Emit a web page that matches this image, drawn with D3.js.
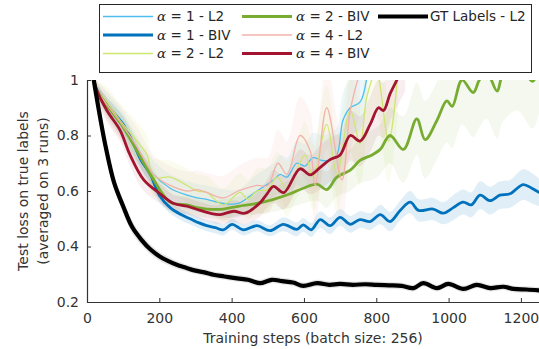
<!DOCTYPE html>
<html>
<head>
<meta charset="utf-8">
<script src="https://cdn.jsdelivr.net/npm/d3@7"></script>
<style>
  body { margin: 0; background: #fff; }
  svg { display: block; }
  text { font-family: "DejaVu Sans", sans-serif; }
</style>
</head>
<body>
<svg id="chart" width="539" height="349"></svg>
<script>
// values (training step -> test loss), spread = half width of the shaded band
var xTicks = [0, 200, 400, 600, 800, 1000, 1200];
var yTicks = [0.2, 0.4, 0.6, 0.8, 1];

var l2a1Steps  = [15, 25, 50, 91, 138, 184, 230, 277, 304, 331, 377, 418, 470, 516, 534, 553, 580, 603, 625, 650, 672, 691, 708, 728, 755, 775];
var l2a1Loss   = [1.03, 0.97, 0.92, 0.85, 0.75, 0.66, 0.61, 0.585, 0.575, 0.57, 0.555, 0.555, 0.6, 0.64, 0.66, 0.65, 0.70, 0.69, 0.72, 0.71, 0.71, 0.73, 0.855, 0.9, 0.92, 1.02];
var l2a1Spread = [0.02, 0.03, 0.04, 0.05, 0.05, 0.05, 0.05, 0.05, 0.05, 0.05, 0.05, 0.05, 0.06, 0.06, 0.07, 0.07, 0.08, 0.08, 0.09, 0.09, 0.1, 0.1, 0.1, 0.1, 0.1, 0.1];

var biv1Steps  = [15, 25, 50, 75, 100, 125, 150, 175, 200, 230, 260, 285, 310, 331, 355, 377, 401, 432, 470, 506, 543, 580, 598, 620, 645, 672, 700, 728, 755, 783, 811, 838, 866, 894, 917, 957, 985, 1013, 1040, 1063, 1087, 1115, 1142, 1170, 1206, 1230, 1250];
var biv1Loss   = [1.03, 0.97, 0.92, 0.88, 0.84, 0.78, 0.71, 0.66, 0.585, 0.54, 0.515, 0.5, 0.485, 0.475, 0.468, 0.46, 0.48, 0.46, 0.475, 0.457, 0.48, 0.462, 0.478, 0.46, 0.497, 0.475, 0.505, 0.48, 0.497, 0.49, 0.515, 0.49, 0.53, 0.56, 0.53, 0.535, 0.52, 0.54, 0.56, 0.55, 0.585, 0.565, 0.585, 0.59, 0.623, 0.61, 0.595];
var biv1Spread = [0.02, 0.02, 0.025, 0.03, 0.03, 0.03, 0.03, 0.03, 0.025, 0.02, 0.02, 0.02, 0.02, 0.02, 0.02, 0.02, 0.02, 0.02, 0.02, 0.02, 0.025, 0.025, 0.025, 0.025, 0.03, 0.03, 0.03, 0.03, 0.03, 0.03, 0.035, 0.035, 0.035, 0.04, 0.04, 0.04, 0.04, 0.045, 0.045, 0.045, 0.05, 0.05, 0.05, 0.05, 0.055, 0.055, 0.05];

var l2a2Steps  = [15, 25, 50, 91, 138, 166, 184, 230, 277, 304, 331, 377, 423, 445, 470, 500, 525, 553, 580, 603, 625, 663, 691, 728, 755, 774, 800, 834, 860];
var l2a2Loss   = [1.03, 0.97, 0.93, 0.855, 0.78, 0.73, 0.65, 0.65, 0.62, 0.6, 0.595, 0.55, 0.595, 0.57, 0.6, 0.605, 0.65, 0.61, 0.675, 0.73, 0.65, 0.84, 0.66, 0.89, 0.77, 0.94, 1.03, 0.78, 1.03];
var l2a2Spread = [0.02, 0.03, 0.05, 0.06, 0.07, 0.07, 0.07, 0.06, 0.06, 0.06, 0.06, 0.06, 0.07, 0.07, 0.08, 0.08, 0.09, 0.1, 0.1, 0.12, 0.12, 0.14, 0.14, 0.15, 0.15, 0.15, 0.15, 0.15, 0.15];

var biv2Steps  = [15, 25, 60, 100, 140, 180, 230, 277, 304, 331, 377, 418, 470, 516, 562, 598, 636, 663, 691, 728, 755, 788, 811, 838, 875, 912, 935, 968, 995, 1010, 1037, 1068, 1085, 1105, 1134, 1150, 1190, 1232, 1250];
var biv2Loss   = [1.03, 0.97, 0.9, 0.83, 0.74, 0.65, 0.56, 0.55, 0.54, 0.535, 0.535, 0.545, 0.555, 0.57, 0.59, 0.61, 0.625, 0.605, 0.65, 0.675, 0.71, 0.73, 0.75, 0.8, 0.75, 0.86, 0.785, 0.855, 0.925, 0.905, 1.0, 0.955, 1.0, 1.03, 0.96, 1.02, 1.06, 0.995, 1.05];
var biv2Spread = [0.02, 0.02, 0.03, 0.04, 0.04, 0.04, 0.035, 0.03, 0.03, 0.03, 0.035, 0.035, 0.04, 0.045, 0.05, 0.055, 0.06, 0.065, 0.07, 0.075, 0.08, 0.09, 0.09, 0.1, 0.12, 0.13, 0.14, 0.14, 0.15, 0.15, 0.16, 0.16, 0.17, 0.17, 0.17, 0.17, 0.17, 0.17, 0.17];

var l2a4Steps  = [15, 25, 50, 91, 138, 184, 230, 277, 304, 331, 377, 418, 470, 500, 528, 553, 589, 617, 631, 663, 705, 728, 755];
var l2a4Loss   = [1.03, 0.97, 0.92, 0.85, 0.76, 0.66, 0.62, 0.6, 0.605, 0.595, 0.575, 0.6, 0.62, 0.62, 0.70, 0.66, 0.80, 0.745, 0.62, 0.90, 0.64, 0.89, 1.03];
var l2a4Spread = [0.02, 0.03, 0.05, 0.06, 0.07, 0.07, 0.07, 0.07, 0.07, 0.07, 0.08, 0.09, 0.1, 0.1, 0.12, 0.12, 0.14, 0.14, 0.14, 0.15, 0.15, 0.15, 0.15];

var biv4Steps  = [15, 25, 55, 91, 119, 157, 202, 240, 277, 313, 340, 368, 406, 437, 478, 498, 516, 544, 589, 617, 645, 672, 700, 728, 755, 783, 806, 820, 838, 857, 880];
var biv4Loss   = [1.03, 0.97, 0.89, 0.82, 0.73, 0.64, 0.59, 0.555, 0.545, 0.53, 0.52, 0.515, 0.527, 0.52, 0.557, 0.59, 0.617, 0.594, 0.68, 0.658, 0.685, 0.713, 0.73, 0.8, 0.78, 0.84, 0.9, 0.89, 0.95, 1.0, 1.06];
var biv4Spread = [0.02, 0.03, 0.04, 0.04, 0.04, 0.04, 0.035, 0.03, 0.03, 0.03, 0.03, 0.035, 0.04, 0.04, 0.05, 0.05, 0.06, 0.06, 0.07, 0.07, 0.08, 0.08, 0.08, 0.09, 0.09, 0.1, 0.1, 0.1, 0.1, 0.1, 0.1];

var gtSteps  = [15, 25, 50, 75, 100, 125, 150, 175, 200, 225, 250, 270, 300, 330, 350, 380, 415, 445, 478, 511, 540, 570, 598, 636, 670, 700, 735, 770, 800, 835, 870, 903, 930, 968, 999, 1041, 1078, 1115, 1151, 1180, 1215, 1250];
var gtLoss   = [1.03, 0.95, 0.77, 0.63, 0.545, 0.47, 0.425, 0.39, 0.365, 0.347, 0.333, 0.325, 0.313, 0.305, 0.298, 0.292, 0.285, 0.28, 0.268, 0.28, 0.275, 0.27, 0.258, 0.268, 0.262, 0.265, 0.262, 0.264, 0.262, 0.26, 0.258, 0.25, 0.268, 0.25, 0.265, 0.247, 0.262, 0.25, 0.255, 0.247, 0.245, 0.242];
var gtSpread = [0.01, 0.02, 0.025, 0.025, 0.025, 0.022, 0.02, 0.018, 0.016, 0.015, 0.014, 0.013, 0.012, 0.012, 0.012, 0.012, 0.012, 0.012, 0.012, 0.012, 0.012, 0.012, 0.012, 0.012, 0.012, 0.012, 0.012, 0.012, 0.012, 0.012, 0.012, 0.012, 0.012, 0.012, 0.012, 0.012, 0.012, 0.012, 0.012, 0.012, 0.012, 0.012];

var series = [
  {alpha: '1', kind: 'L2',  steps: l2a1Steps, loss: l2a1Loss, spread: l2a1Spread, color: '#4dbeee', width: 1.3, band: 0.1},
  {alpha: '1', kind: 'BIV', steps: biv1Steps, loss: biv1Loss, spread: biv1Spread, color: '#0072bd', width: 2.8, band: 0.12},
  {alpha: '2', kind: 'L2',  steps: l2a2Steps, loss: l2a2Loss, spread: l2a2Spread, color: '#cfe672', width: 1.3, band: 0.12},
  {alpha: '2', kind: 'BIV', steps: biv2Steps, loss: biv2Loss, spread: biv2Spread, color: '#77ac30', width: 2.8, band: 0.08},
  {alpha: '4', kind: 'L2',  steps: l2a4Steps, loss: l2a4Loss, spread: l2a4Spread, color: '#f2b2aa', width: 1.3, band: 0.12},
  {alpha: '4', kind: 'BIV', steps: biv4Steps, loss: biv4Loss, spread: biv4Spread, color: '#a2142f', width: 2.8, band: 0.08},
  {alpha: null, kind: 'GT', steps: gtSteps, loss: gtLoss, spread: gtSpread, color: '#000000', width: 4.2, band: 0.1}
];

var svg = d3.select('#chart');
var margin = {top: 80, right: 0, bottom: 47, left: 87};
var width = 539 - margin.left - margin.right;
var height = 349 - margin.top - margin.bottom;
var ink = '#333';

var x = d3.scaleLinear().domain([0, 1250]).range([0, width]);
var y = d3.scaleLinear().domain([0.2, 1]).range([height, 0]);

var g = svg.append('g').attr('transform', 'translate(' + margin.left + ',' + margin.top + ')');

g.append('clipPath').attr('id', 'plot-clip')
  .append('rect').attr('x', 0).attr('y', 0).attr('width', width).attr('height', height);

var plot = g.append('g').attr('clip-path', 'url(#plot-clip)');

function points(s) {
  return s.steps.map(function (st, i) {
    return {s: st, v: s.loss[i], e: s.spread[i]};
  });
}

var band = d3.area()
  .x(function (d) { return x(d.s); })
  .y0(function (d) { return y(d.v - d.e); })
  .y1(function (d) { return y(d.v + d.e); })
  .curve(d3.curveCatmullRom);

var line = d3.line()
  .x(function (d) { return x(d.s); })
  .y(function (d) { return y(d.v); })
  .curve(d3.curveCatmullRom);

// shaded bands go under every line
series.forEach(function (s) {
  plot.append('path')
    .datum(points(s))
    .attr('d', band)
    .attr('fill', s.color)
    .attr('fill-opacity', s.band);
});

series.forEach(function (s) {
  plot.append('path')
    .datum(points(s))
    .attr('d', line)
    .attr('fill', 'none')
    .attr('stroke', s.color)
    .attr('stroke-width', s.width)
    .attr('stroke-linejoin', 'round')
    .attr('stroke-linecap', 'round');
});

// axes, ticks pointing inward
var xAxis = g.append('g')
  .attr('transform', 'translate(0,' + height + ')')
  .call(d3.axisBottom(x).tickValues(xTicks).tickFormat(d3.format('d')).tickSizeInner(-4).tickSizeOuter(0).tickPadding(11));

var yAxis = g.append('g')
  .call(d3.axisLeft(y).tickValues(yTicks).tickFormat(d3.format('')).tickSizeInner(-4).tickSizeOuter(0).tickPadding(8));

[xAxis, yAxis].forEach(function (a) {
  a.select('.domain').attr('stroke', ink).attr('stroke-width', 1.2);
  a.selectAll('.tick line').attr('stroke', ink);
  a.selectAll('.tick text').attr('fill', ink).attr('font-size', 14).attr('font-family', '"DejaVu Sans", sans-serif');
});

g.append('text')
  .attr('x', width / 2)
  .attr('y', height + 41)
  .attr('text-anchor', 'middle')
  .attr('fill', ink)
  .attr('font-size', 14)
  .text('Training steps (batch size: 256)');

var yTitle = g.append('text')
  .attr('transform', 'rotate(-90)')
  .attr('text-anchor', 'middle')
  .attr('fill', ink)
  .attr('font-size', 14);
yTitle.append('tspan').attr('x', -height / 2).attr('y', 28 - margin.left).text('Test loss on true labels');
yTitle.append('tspan').attr('x', -height / 2).attr('y', 48 - margin.left).text('(averaged on 3 runs)');

// legend, filled column by column
var legend = svg.append('g');
legend.append('rect')
  .attr('x', 99.5).attr('y', 4.5)
  .attr('width', 432).attr('height', 68)
  .attr('fill', '#fff')
  .attr('stroke', '#262626')
  .attr('stroke-width', 1);

var colX = [103, 242, 378];
series.forEach(function (s, i) {
  var cx = colX[Math.floor(i / 3)];
  var cy = 16.5 + (i % 3) * 18.5;
  var item = legend.append('g').attr('transform', 'translate(' + cx + ',' + cy + ')');
  item.append('line')
    .attr('x1', 0).attr('x2', 50)
    .attr('stroke', s.color)
    .attr('stroke-width', s.width);
  var t = item.append('text')
    .attr('x', s.alpha ? 54 : 52)
    .attr('dy', '0.36em')
    .attr('fill', '#262626')
    .attr('font-size', 13.5);
  if (s.alpha) {
    t.append('tspan').attr('font-family', '"DejaVu Serif", serif').attr('font-style', 'italic').text('α');
    t.append('tspan').text(' = ' + s.alpha + ' - ' + s.kind);
  } else {
    t.text('GT Labels - L2');
  }
});
</script>
</body>
</html>
